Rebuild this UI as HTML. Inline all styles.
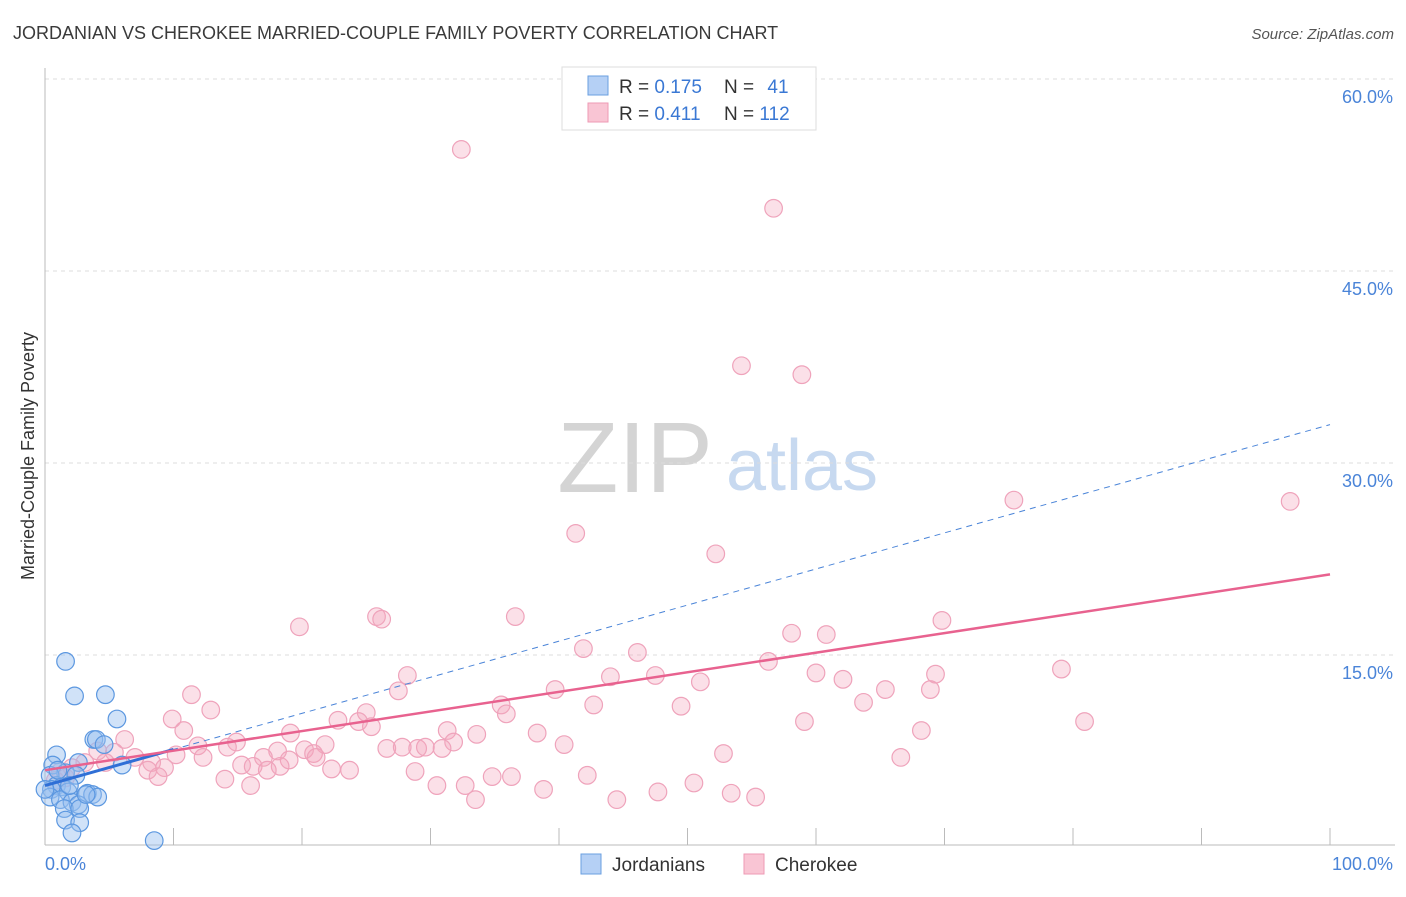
<!DOCTYPE html>
<html><head><meta charset="utf-8"><style>
body{margin:0;background:#fff;font-family:"Liberation Sans",sans-serif;}
svg text{font-family:"Liberation Sans",sans-serif;}
</style></head><body>
<svg id="chart" width="1406" height="892" xmlns="http://www.w3.org/2000/svg">
<text x="13" y="39" font-size="18" fill="#3a3a3a">JORDANIAN VS CHEROKEE MARRIED-COUPLE FAMILY POVERTY CORRELATION CHART</text>
<text x="1394" y="39" font-size="15" fill="#555" font-style="italic" text-anchor="end">Source: ZipAtlas.com</text>
<g>
<text x="635" y="492" font-size="100" fill="#d4d4d4" font-family="Liberation Serif, serif" text-anchor="middle">ZIP</text>
<text x="802" y="490" font-size="72" fill="#c7d9f0" text-anchor="middle">atlas</text>
</g>
<g id="grid"></g>
<g id="axes"></g>
<g id="marks"></g>
<text transform="translate(34,456) rotate(-90)" font-size="18" fill="#333" text-anchor="middle">Married-Couple Family Poverty</text>
<text x="45" y="870" font-size="18" fill="#4a84d8">0.0%</text>
<text x="1393" y="870" font-size="18" fill="#4a84d8" text-anchor="end">100.0%</text>
<g>
<rect x="562" y="67" width="254" height="63" fill="#fff" stroke="#ddd"/>
<rect x="588" y="76" width="20" height="19" fill="#b5d0f5" stroke="#6a9fe0"/>
<rect x="588" y="103" width="20" height="19" fill="#f9c5d4" stroke="#ee9ab4"/>
<text x="619" y="93" font-size="19" fill="#333">R = <tspan fill="#3a78d4">0.175</tspan></text>
<text x="724" y="93" font-size="19" fill="#333">N = <tspan fill="#3a78d4" dx="8">41</tspan></text>
<text x="619" y="120" font-size="19" fill="#333">R = <tspan fill="#3a78d4">0.411</tspan></text>
<text x="724" y="120" font-size="19" fill="#333">N = <tspan fill="#3a78d4">112</tspan></text>
</g>
<g>
<rect x="581" y="854" width="20" height="20" fill="#b5d0f5" stroke="#6a9fe0"/>
<text x="612" y="871" font-size="19" fill="#333">Jordanians</text>
<rect x="744" y="854" width="20" height="20" fill="#f9c5d4" stroke="#ee9ab4"/>
<text x="775" y="871" font-size="19" fill="#333">Cherokee</text>
</g>
</svg>
<script>
const yTicks=[15,30,45,60];
const yTickLabels=["15.0%","30.0%","45.0%","60.0%"];
const xTicks=[10,20,30,40,50,60,70,80,90,100];
const cherokeeX=[32.4,56.7,54.2,58.9,75.4,96.9,41.3,52.2,19.8,25.8,26.2,36.6,58.1,60.8,69.8,41.9,46.1,56.3,79.1,69.3,60.0,28.2,44.0,47.5,62.1,51.0,39.7,65.4,68.9,27.5,11.4,35.5,42.7,49.5,63.7,12.9,25.0,35.9,9.9,22.8,24.4,59.1,80.9,25.4,10.8,19.1,31.3,33.6,38.3,68.2,14.9,21.8,31.8,6.2,11.9,14.2,26.6,27.8,29.0,29.6,30.9,40.4,18.1,20.2,20.9,4.1,5.4,10.2,52.8,7.0,12.3,17.0,19.0,21.1,8.3,4.7,15.3,16.2,9.3,18.3,66.6,22.3,23.7,17.3,28.8,8.0,3.1,2.1,1.2,8.8,14.0,34.8,36.3,42.2,16.0,30.5,32.7,50.5,38.8,47.7,53.4,55.3,33.5,44.5,0.8,1.6];
const cherokeeY=[54.5,49.9,37.6,36.9,27.1,27.0,24.5,22.9,17.2,18.0,17.8,18.0,16.7,16.6,17.7,15.5,15.2,14.5,13.9,13.5,13.6,13.4,13.3,13.4,13.1,12.9,12.3,12.3,12.3,12.2,11.9,11.1,11.1,11.0,11.3,10.7,10.5,10.4,10.0,9.9,9.8,9.8,9.8,9.4,9.1,8.9,9.1,8.8,8.9,9.1,8.2,8.0,8.2,8.4,7.9,7.8,7.7,7.8,7.7,7.8,7.7,8.0,7.5,7.6,7.3,7.5,7.4,7.2,7.3,7.0,7.0,7.0,6.8,7.0,6.6,6.6,6.4,6.3,6.2,6.3,7.0,6.1,6.0,6.0,5.9,6.0,6.6,6.2,5.9,5.5,5.3,5.5,5.5,5.6,4.8,4.8,4.8,5.0,4.5,4.3,4.2,3.9,3.7,3.7,5.2,5.4];
const jordanX=[1.6,2.3,4.7,5.6,3.8,4.0,0.9,0.6,2.6,4.6,6.0,1.6,2.4,0.4,0.9,1.3,0.5,1.8,3.3,3.7,4.1,0.4,1.2,2.1,2.6,1.5,2.7,1.6,2.7,2.1,8.5,1.0,0.0,3.2,1.9];
const jordanY=[14.5,11.8,11.9,10.0,8.4,8.4,7.2,6.4,6.6,8.0,6.4,5.8,5.6,5.6,4.8,4.7,4.5,4.3,4.2,4.1,3.9,3.9,3.7,3.5,3.3,3.0,3.0,2.1,1.9,1.1,0.5,6.0,4.5,4.1,4.8];
const cherokeeTrend=[6.0,21.3];
const jordanTrend=[4.8,33.0];

const NS="http://www.w3.org/2000/svg";
const X0=45,X1=1330,YB=847,YPX=12.8;
function sx(v){return X0+(X1-X0)*v/100;}
function sy(v){return YB-v*YPX;}
function mk(tag,attrs,parent){const e=document.createElementNS(NS,tag);for(const k in attrs)e.setAttribute(k,attrs[k]);parent.appendChild(e);return e;}
const grid=document.getElementById('grid'),axes=document.getElementById('axes'),marks=document.getElementById('marks');
yTicks.forEach((t,i)=>{
  const l=mk('line',{x1:X0,x2:1395,y1:sy(t),y2:sy(t),stroke:'#dcdcdc','stroke-dasharray':'4,4'},grid);
  
  
  const tx=mk('text',{x:1393,y:sy(t)+24,'font-size':18,fill:'#4a84d8','text-anchor':'end'},grid);
  tx.textContent=yTickLabels[i];
  
  
});
const ya=mk('line',{x1:X0,x2:X0,y1:68,y2:845,stroke:'#bbb'},axes);


const xa=mk('line',{x1:X0,x2:1395,y1:845,y2:845,stroke:'#bbb'},axes);


xTicks.forEach(t=>{
  const l=mk('line',{x1:sx(t),x2:sx(t),y1:828,y2:845,stroke:'#bbb'},axes);
  
  
});
cherokeeX.forEach((x,i)=>{
  const c=mk('circle',{cx:sx(x),cy:sy(cherokeeY[i]),r:8.8,fill:'rgba(244,166,190,0.35)',stroke:'#efa3bb','stroke-width':1.2},marks);
  
  
});
jordanX.forEach((x,i)=>{
  const c=mk('circle',{cx:sx(x),cy:sy(jordanY[i]),r:8.8,fill:'rgba(150,190,240,0.45)',stroke:'#5b97e0','stroke-width':1.2},marks);
  
  
});
const jd=mk('line',{x1:sx(0),y1:sy(jordanTrend[0]),x2:sx(100),y2:sy(jordanTrend[1]),stroke:'#4a84d8','stroke-width':1,'stroke-dasharray':'6,5'},marks);


const js=mk('line',{x1:sx(0),y1:sy(jordanTrend[0]),x2:sx(10),y2:sy(jordanTrend[0]+(jordanTrend[1]-jordanTrend[0])*0.1),stroke:'#2f6fd6','stroke-width':3},marks);


const ct=mk('line',{x1:sx(0),y1:sy(cherokeeTrend[0]),x2:sx(100),y2:sy(cherokeeTrend[1]),stroke:'#e8628f','stroke-width':2.5},marks);


</script>
</body></html>
